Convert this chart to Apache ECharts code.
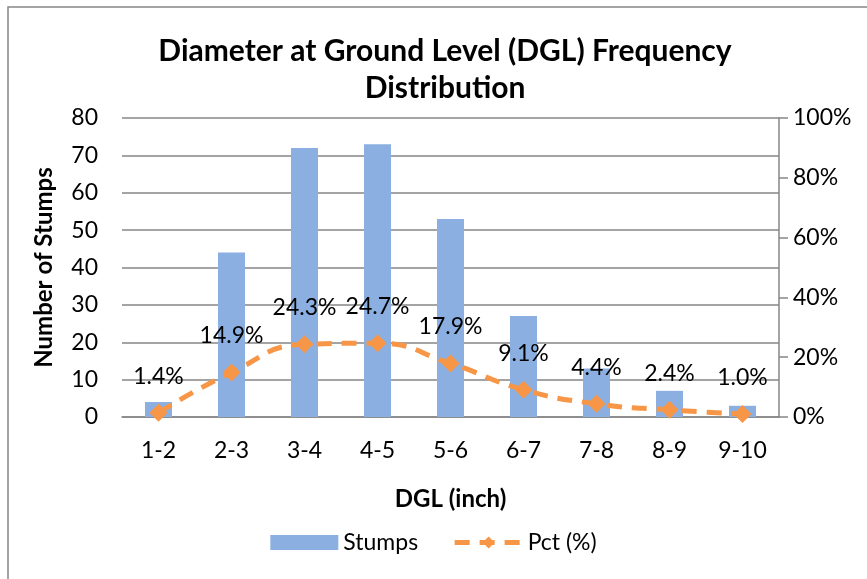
<!DOCTYPE html>
<html><head><meta charset="utf-8">
<script src="https://cdn.jsdelivr.net/npm/echarts@6/dist/echarts.min.js"></script>
<style>html,body{margin:0;padding:0;background:#fff}#c{width:867px;height:579px}</style>
</head><body><div id="c"></div>
<script>
const categories = ['1-2','2-3','3-4','4-5','5-6','6-7','7-8','8-9','9-10'];
const stumps = [4,44,72,73,53,27,13,7,3];
const pct = [1.4,14.9,24.3,24.7,17.9,9.1,4.4,2.4,1.0];
const leftTicks = [0,10,20,30,40,50,60,70,80];
const rightTicks = [0,20,40,60,80,100];

const FONT = 'Lato';
const FS = 23;
const chart = echarts.init(document.getElementById('c'), null, {renderer:'canvas'});
chart.setOption({
  animation:false,
  backgroundColor:'#fff',
  textStyle:{fontFamily:FONT},
  title:{
    text:'Diameter at Ground Level (DGL) Frequency\nDistribution',
    left:440, top:28, textAlign:'center',
    textStyle:{fontFamily:FONT,fontWeight:'bold',fontSize:30,color:'#000',lineHeight:37}
  },
  graphic:[{type:'rect',shape:{x:8,y:7,width:900,height:600},style:{fill:'none',stroke:'#868686',lineWidth:1.5},silent:true}],
  legend:{
    bottom:20, left:'center', itemGap:34, itemWidth:68, itemHeight:15,
    textStyle:{fontFamily:FONT,fontSize:FS,color:'#000'},
    data:[{name:'Stumps',icon:'rect'},{name:'Pct (%)',lineStyle:{width:5}}]
  },
  grid:{left:122,right:88,top:118,bottom:162,containLabel:false},
  xAxis:{
    type:'category', data:categories,
    name:'DGL (inch)', nameLocation:'middle', nameGap:70,
    nameTextStyle:{fontFamily:FONT,fontWeight:'bold',fontSize:FS+1,color:'#000'},
    axisLine:{lineStyle:{color:'#868686',width:1.5}},
    axisTick:{show:false},
    axisLabel:{fontFamily:FONT,fontSize:FS,color:'#000',margin:22}
  },
  yAxis:[{
    type:'value', min:0, max:80, interval:10,
    name:'Number of Stumps', nameLocation:'middle', nameGap:66,
    nameTextStyle:{fontFamily:FONT,fontWeight:'bold',fontSize:FS+1,color:'#000'},
    axisLine:{show:false},
    axisTick:{show:false},
    axisLabel:{fontFamily:FONT,fontSize:FS,color:'#000',margin:24},
    splitLine:{lineStyle:{color:'#868686',width:1.5}}
  },{
    type:'value', min:0, max:100, interval:20, position:'right',
    axisLine:{show:true,lineStyle:{color:'#868686',width:1.5}},
    axisTick:{show:true,length:9,lineStyle:{color:'#868686',width:1.5}},
    axisLabel:{fontFamily:FONT,fontSize:FS,color:'#000',margin:14,formatter:'{value}%'},
    splitLine:{show:false}
  }],
  series:[{
    name:'Stumps', type:'bar', data:stumps, barWidth:27,
    itemStyle:{color:'#8aafe0'}
  },{
    name:'Pct (%)', type:'line', yAxisIndex:1, data:pct, smooth:0.5,
    symbol:'diamond', symbolSize:18,
    lineStyle:{color:'#f79646',width:5,type:[15,10]},
    itemStyle:{color:'#f79646'},
    label:{show:true,position:'top',distance:16,fontFamily:FONT,fontSize:FS,color:'#000',
      formatter:p=>p.value.toFixed(1)+'%'}
  }]
});
</script></body></html>
